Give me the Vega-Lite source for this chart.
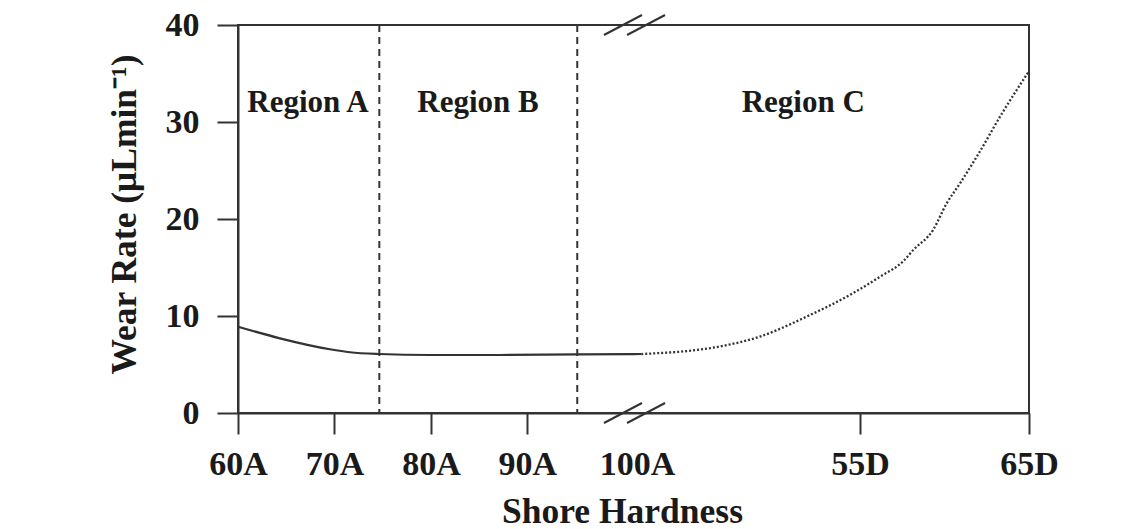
{
  "$schema": "https://vega.github.io/schema/vega-lite/v6.json",
  "width": 791,
  "height": 388,
  "autosize": {"type": "none"},
  "padding": {"left": 238, "top": 25, "right": 116, "bottom": 116},
  "background": "white",
  "config": {
    "view": {"stroke": "#333333", "strokeWidth": 2},
    "font": "Liberation Serif",
    "axis": {
      "domainColor": "#333333", "domainWidth": 2, "tickColor": "#333333", "tickWidth": 2,
      "labelFont": "Liberation Serif", "labelFontWeight": "bold", "labelFontSize": 34, "labelColor": "#1a1a1a",
      "titleFont": "Liberation Serif", "titleFontWeight": "bold", "titleFontSize": 35.5, "titleColor": "#1a1a1a",
      "grid": false
    }
  },
  "datasets": {
    "solid": [
      {"h": 60, "w": 8.9}, {"h": 64.35, "w": 7.7}, {"h": 69.53, "w": 6.57}, {"h": 71.6, "w": 6.26},
      {"h": 74.6, "w": 6.08}, {"h": 79.9, "w": 5.98}, {"h": 87.15, "w": 5.98}, {"h": 95.13, "w": 6.05},
      {"h": 101.8, "w": 6.08}
    ],
    "dotted": [
      {"h": 101.8, "w": 6.08}, {"h": 109.95, "w": 6.86}, {"h": 114.09, "w": 7.87}, {"h": 118.93, "w": 9.93},
      {"h": 123.73, "w": 12.34}, {"h": 126.56, "w": 14.05}, {"h": 128.91, "w": 15.6}, {"h": 130.0, "w": 16.8},
      {"h": 132.05, "w": 18.87}, {"h": 133.47, "w": 21.62}, {"h": 134.85, "w": 23.68}, {"h": 136.58, "w": 26.42},
      {"h": 139.27, "w": 31.0}, {"h": 141.9, "w": 35.1}
    ],
    "bounds": [{"h": 74.65}, {"h": 95.17}],
    "regions": [
      {"h": 67.26, "w": 32, "label": "Region A"},
      {"h": 84.88, "w": 32, "label": "Region B"},
      {"h": 118.6, "w": 32, "label": "Region C"}
    ],
    "breaks": [
      {"x1": 97.94, "x2": 101.88, "y1": 38.97, "y2": 41.03},
      {"x1": 100.33, "x2": 104.27, "y1": 38.97, "y2": 41.03},
      {"x1": 97.94, "x2": 101.88, "y1": -1.03, "y2": 1.03},
      {"x1": 100.33, "x2": 104.27, "y1": -1.03, "y2": 1.03}
    ]
  },
  "layer": [
    {
      "data": {"name": "solid"},
      "mark": {"type": "line", "color": "#333333", "strokeWidth": 2.2, "interpolate": "monotone"},
      "encoding": {
        "x": {
          "field": "h", "type": "quantitative",
          "scale": {"domain": [60, 142], "nice": false, "zero": false},
          "axis": {
            "title": "Shore Hardness",
            "values": [60, 70, 80, 90, 101.36, 124.48, 142],
            "labelExpr": "datum.value < 65 ? '60A' : datum.value < 75 ? '70A' : datum.value < 85 ? '80A' : datum.value < 95 ? '90A' : datum.value < 110 ? '100A' : datum.value < 130 ? '55D' : '65D'",
            "tickSize": 21,
            "labelPadding": 13,
            "labelFlush": false,
            "labelOverlap": false,
            "labelBound": false,
            "tickOpacity": {"condition": {"test": "datum.value > 100 && datum.value < 103", "value": 0}, "value": 1},
            "titleX": 384,
            "titleY": 109,
            "titleBaseline": "alphabetic",
            "titleAnchor": "middle",
            "titleAlign": "center"
          }
        },
        "y": {
          "field": "w", "type": "quantitative",
          "scale": {"domain": [0, 40], "nice": false},
          "axis": {
            "title": "Wear Rate (μLmin⁻¹)",
            "values": [0, 10, 20, 30, 40],
            "tickSize": 21,
            "labelPadding": 18,
            "labelFlush": false,
            "titleX": -114,
            "titleY": 189,
            "titleAngle": -90,
            "titleBaseline": "middle",
            "titleAlign": "center"
          }
        }
      }
    },
    {
      "data": {"name": "dotted"},
      "mark": {"type": "line", "color": "#333333", "strokeWidth": 2.3, "strokeDash": [2, 2], "interpolate": "monotone"},
      "encoding": {
        "x": {"field": "h", "type": "quantitative"},
        "y": {"field": "w", "type": "quantitative"}
      }
    },
    {
      "data": {"name": "bounds"},
      "mark": {"type": "rule", "color": "#333333", "strokeWidth": 2, "strokeDash": [7, 5]},
      "encoding": {
        "x": {"field": "h", "type": "quantitative"}
      }
    },
    {
      "data": {"name": "regions"},
      "mark": {"type": "text", "font": "Liberation Serif", "fontWeight": "bold", "fontSize": 31, "color": "#1a1a1a", "baseline": "middle", "align": "center"},
      "encoding": {
        "x": {"field": "h", "type": "quantitative"},
        "y": {"field": "w", "type": "quantitative"},
        "text": {"field": "label"}
      }
    },
    {
      "data": {"name": "breaks"},
      "mark": {"type": "rule", "color": "#333333", "strokeWidth": 2, "clip": false},
      "encoding": {
        "x": {"field": "x1", "type": "quantitative"},
        "x2": {"field": "x2"},
        "y": {"field": "y1", "type": "quantitative"},
        "y2": {"field": "y2"}
      }
    }
  ]
}
